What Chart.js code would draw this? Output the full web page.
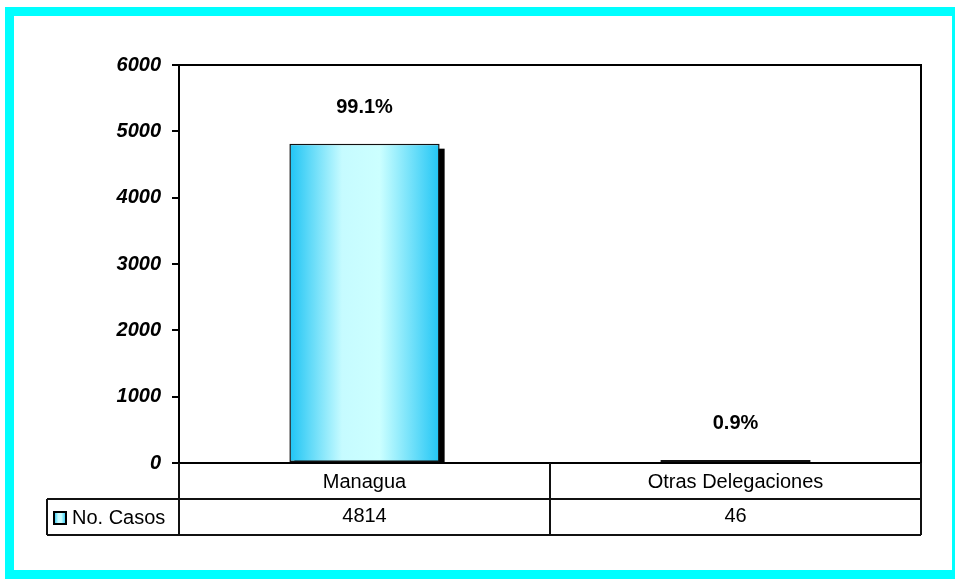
<!DOCTYPE html>
<html>
<head>
<meta charset="utf-8">
<script src="https://cdn.jsdelivr.net/npm/chart.js@4.4.1/dist/chart.umd.min.js"></script>
<style>
  html, body { margin: 0; padding: 0; background: #fff; }
  #wrap { width: 955px; height: 580px; }
</style>
</head>
<body>
<div id="wrap"><canvas id="casosChart" width="955" height="580"></canvas></div>
<script>
// chart data
const categories = ['Managua', 'Otras Delegaciones'];
const casos = [4814, 46];
const porcentajes = ['99.1%', '0.9%'];
const seriesName = 'No. Casos';
const yTicks = [0, 1000, 2000, 3000, 4000, 5000, 6000];

const FONT = '"Liberation Sans", Arial, sans-serif';

function cyanGradient(ctx, x0, x1) {
  const g = ctx.createLinearGradient(x0, 0, x1, 0);
  g.addColorStop(0, '#1ec4f4');
  g.addColorStop(0.35, '#c6fbff');
  g.addColorStop(0.6, '#ccffff');
  g.addColorStop(1, '#22c6f5');
  return g;
}

// bar fill: gradient for Managua, dark maroon for the rest
function barFill(context) {
  const chart = context.chart;
  const xs = chart.scales.x;
  if (context.dataIndex !== 0) return '#4e0f3c';
  if (!xs) return '#8fe6fb';
  const cx = xs.getPixelForValue(context.dataIndex);
  const w = (xs.width / categories.length) * 0.405;
  if (!isFinite(cx) || !isFinite(w) || w <= 0) return '#8fe6fb';
  return cyanGradient(chart.ctx, cx - w / 2, cx + w / 2);
}

const shadowAndFrame = {
  id: 'shadowAndFrame',
  beforeDatasetsDraw(chart) {
    const ctx = chart.ctx;
    const meta = chart.getDatasetMeta(0);
    ctx.save();
    ctx.fillStyle = '#000';
    meta.data.forEach(bar => {
      const h = bar.base - bar.y - 5;
      if (h > 0) ctx.fillRect(bar.x - bar.width / 2 + 5, bar.y + 5, bar.width, h);
    });
    ctx.restore();
  },
  afterDatasetsDraw(chart) {
    const ctx = chart.ctx;
    const meta = chart.getDatasetMeta(0);
    ctx.save();
    ctx.fillStyle = '#000';
    ctx.font = 'bold 20px ' + FONT;
    ctx.textAlign = 'center';
    ctx.textBaseline = 'middle';
    meta.data.forEach((bar, i) => {
      ctx.fillText(porcentajes[i], bar.x, bar.y - 36);
    });
    ctx.restore();
  },
  afterDraw(chart) {
    const ctx = chart.ctx;
    const a = chart.chartArea;
    const xs = chart.scales.x;
    ctx.save();

    // top and right side of the plot box
    ctx.strokeStyle = '#000';
    ctx.lineWidth = 2;
    ctx.beginPath();
    ctx.moveTo(a.left, a.top);
    ctx.lineTo(a.right, a.top);
    ctx.lineTo(a.right, a.bottom);
    ctx.stroke();

    // data table below the axis
    const row1 = a.bottom + 36;
    const row2 = row1 + 36;
    const legendLeft = 47;
    ctx.lineWidth = 2;
    ctx.strokeStyle = '#111';
    ctx.beginPath();
    ctx.moveTo(legendLeft, row1); ctx.lineTo(a.right, row1);
    ctx.moveTo(legendLeft, row2); ctx.lineTo(a.right, row2);
    ctx.moveTo(legendLeft, row1); ctx.lineTo(legendLeft, row2);
    ctx.moveTo(a.left, a.bottom); ctx.lineTo(a.left, row2);
    ctx.moveTo(a.right, a.bottom); ctx.lineTo(a.right, row2);
    for (let i = 0; i < categories.length - 1; i++) {
      const xb = (xs.getPixelForValue(i) + xs.getPixelForValue(i + 1)) / 2;
      ctx.moveTo(xb, a.bottom); ctx.lineTo(xb, row2);
    }
    ctx.stroke();

    ctx.fillStyle = '#000';
    ctx.font = '20px ' + FONT;
    ctx.textAlign = 'center';
    ctx.textBaseline = 'middle';
    casos.forEach((v, i) => {
      ctx.fillText(String(v), xs.getPixelForValue(i), (row1 + row2) / 2 - 1);
    });

    // legend key
    const ky = (row1 + row2) / 2 - 5;
    ctx.fillStyle = cyanGradient(ctx, 54, 66);
    ctx.fillRect(54, ky, 12, 12);
    ctx.lineWidth = 2;
    ctx.strokeStyle = '#000';
    ctx.strokeRect(54, ky, 12, 12);
    ctx.fillStyle = '#000';
    ctx.textAlign = 'left';
    ctx.fillText(seriesName, 72, (row1 + row2) / 2 + 1);

    // cyan frame
    ctx.strokeStyle = '#00ffff';
    ctx.lineWidth = 9;
    ctx.strokeRect(9.5, 11.5, 947, 563);
    ctx.restore();
  }
};

new Chart(document.getElementById('casosChart'), {
  type: 'bar',
  data: {
    labels: categories,
    datasets: [{
      label: seriesName,
      data: casos,
      backgroundColor: barFill,
      borderColor: '#111',
      borderWidth: 1.5,
      borderSkipped: false,
      barPercentage: 0.405,
      categoryPercentage: 1
    }]
  },
  options: {
    responsive: false,
    animation: false,
    layout: { padding: { left: 0, top: 65, right: 34, bottom: 0 } },
    plugins: {
      legend: { display: false },
      tooltip: { enabled: false }
    },
    scales: {
      y: {
        min: 0,
        max: 6000,
        afterFit(scale) { scale.width = 179; },
        afterBuildTicks(scale) { scale.ticks = yTicks.map(v => ({ value: v })); },
        ticks: {
          color: '#000',
          padding: 11,
          callback: v => String(v),
          font: { family: FONT, size: 20, weight: 'bold', style: 'italic' }
        },
        grid: { drawOnChartArea: false, tickLength: 7, color: '#000', lineWidth: 2 },
        border: { display: true, color: '#000', width: 2 }
      },
      x: {
        afterFit(scale) { scale.height = 117; },
        ticks: {
          color: '#000',
          padding: 7,
          maxRotation: 0,
          font: { family: FONT, size: 20 }
        },
        grid: { display: false, drawTicks: false },
        border: { display: true, color: '#000', width: 2 }
      }
    }
  },
  plugins: [shadowAndFrame]
});
</script>
</body>
</html>
